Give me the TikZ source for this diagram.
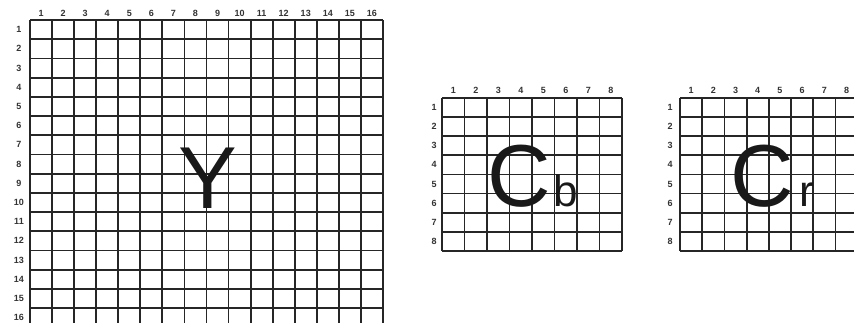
\documentclass[tikz,border=0pt]{standalone}
\usepackage{fontspec}
\setmainfont{Liberation Sans}
\usetikzlibrary{positioning}

\begin{document}
\begin{tikzpicture}[x=1pt, y=-1pt,
    gridline/.style={line width=1.8pt, black!85},
    cellnum/.style={font=\fontsize{9}{9}\selectfont\bfseries, text=black!80, inner sep=0pt},
    bigletter/.style={font=\fontsize{88}{88}\selectfont, text=black!90, inner sep=0pt, anchor=base},
    subletter/.style={font=\fontsize{44}{44}\selectfont, text=black!90, inner sep=0pt, anchor=base west}]
  \useasboundingbox (0,0) rectangle (854,322);
  \clip (0,0) rectangle (854,322);

  % Y plane (16 x 16)
  \foreach \i in {0,...,16} {
    \draw[gridline] ({30+22.06*\i},20) -- ({30+22.06*\i},327);
    \draw[gridline] (30,{20+19.2*\i}) -- (383,{20+19.2*\i});
  }
  \foreach \i in {1,...,16} {
    \node[cellnum] (ycol\i) at ({30+22.06*(\i-0.5)},13) {\i};
    \node[cellnum] (yrow\i) at (19,{20+19.2*(\i-0.5)}) {\i};
  }
  \node[bigletter] (lumaY) at (208,208) {Y};

  % Cb plane (8 x 8)
  \foreach \i in {0,...,8} {
    \draw[gridline] ({442+22.5*\i},98) -- ({442+22.5*\i},251);
    \draw[gridline] (442,{98+19.1*\i}) -- (622,{98+19.1*\i});
  }
  \foreach \i in {1,...,8} {
    \node[cellnum] (cbcol\i) at ({442+22.5*(\i-0.5)},90) {\i};
    \node[cellnum] (cbrow\i) at (434,{98+19.1*(\i-0.5)}) {\i};
  }
  \node[bigletter] (cbC) at (519,206) {C};
  \node[subletter] (cbSub) at (553,206) {b};

  % Cr plane (8 x 8)
  \foreach \i in {0,...,8} {
    \draw[gridline] ({680+22.2*\i},98) -- ({680+22.2*\i},251);
    \draw[gridline] (680,{98+19.1*\i}) -- (858,{98+19.1*\i});
  }
  \foreach \i in {1,...,8} {
    \node[cellnum] (crcol\i) at ({680+22.2*(\i-0.5)},90) {\i};
    \node[cellnum] (crrow\i) at (670,{98+19.1*(\i-0.5)}) {\i};
  }
  \node[bigletter] (crC) at (762,206) {C};
  \node[subletter] (crSub) at (799,206) {r};
\end{tikzpicture}
\end{document}
